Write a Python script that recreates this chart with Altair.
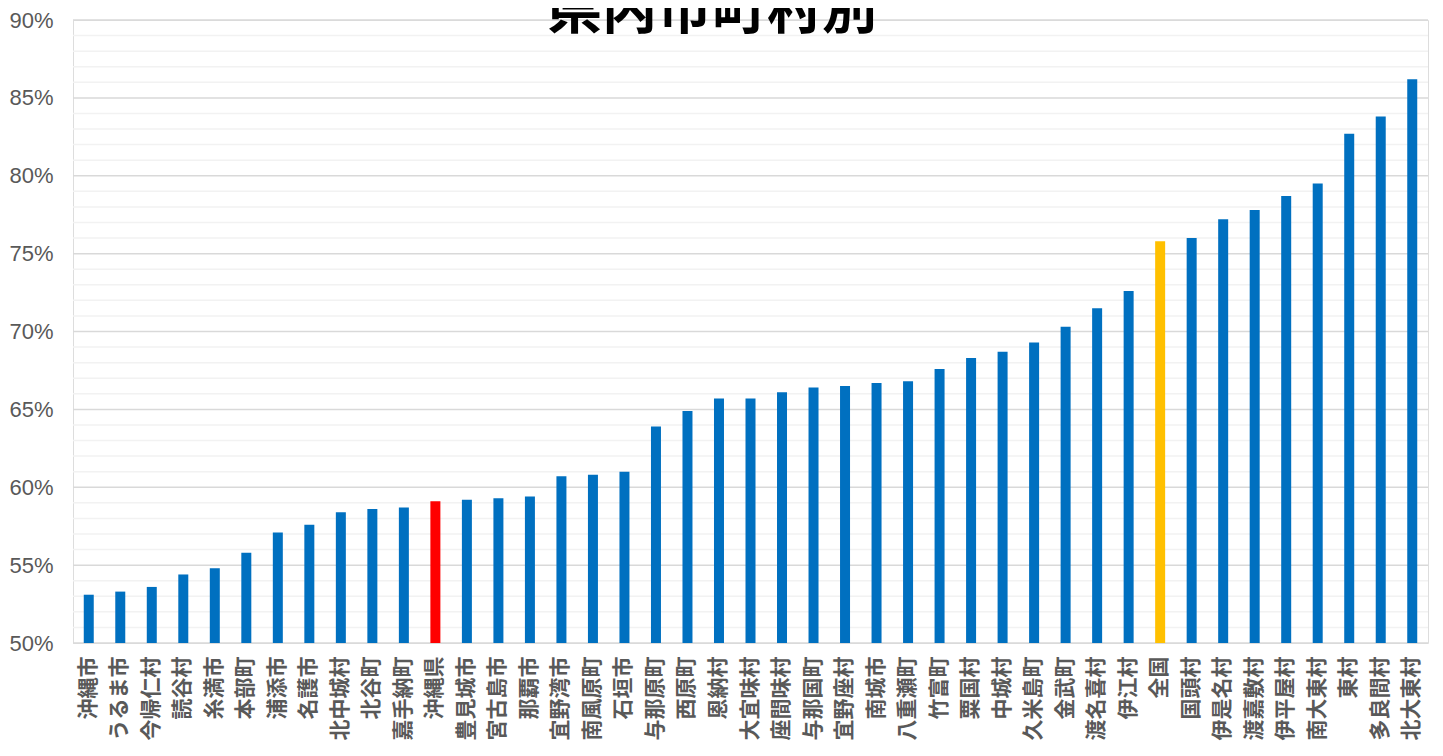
import altair as alt
import pandas as pd

title_text = ["県内市町村別"]
names = ["沖縄市", "うるま市", "今帰仁村", "読谷村", "糸満市", "本部町", "浦添市", "名護市",
         "北中城村", "北谷町", "嘉手納町", "沖縄県", "豊見城市", "宮古島市", "那覇市", "宜野湾市",
         "南風原町", "石垣市", "与那原町", "西原町", "恩納村", "大宜味村", "座間味村", "与那国町",
         "宜野座村", "南城市", "八重瀬町", "竹富町", "粟国村", "中城村", "久米島町", "金武町",
         "渡名喜村", "伊江村", "全国", "国頭村", "伊是名村", "渡嘉敷村", "伊平屋村", "南大東村",
         "東村", "多良間村", "北大東村"]
values = [53.1, 53.3, 53.6, 54.4, 54.8, 55.8, 57.1, 57.6,
          58.4, 58.6, 58.7, 59.1, 59.2, 59.3, 59.4, 60.7,
          60.8, 61.0, 63.9, 64.9, 65.7, 65.7, 66.1, 66.4,
          66.5, 66.7, 66.8, 67.6, 68.3, 68.7, 69.3, 70.3,
          71.5, 72.6, 75.8, 76.0, 77.2, 77.8, 78.7, 79.5,
          82.7, 83.8, 86.2]
kinds = ["県" if n == "沖縄県" else ("全国" if n == "全国" else "市町村") for n in names]
kind_domain = ["市町村", "県", "全国"]
kind_colors = ["#0070C0", "#FF0000", "#FFC000"]

major_ticks = [50, 55, 60, 65, 70, 75, 80, 85, 90]
minor_ticks = [v for v in range(50, 91) if v % 5 != 0]

df = pd.DataFrame({"name": names, "value": values, "kind": kinds})
major_df = pd.DataFrame({"v": major_ticks})
minor_df = pd.DataFrame({"v": minor_ticks})
title_df = pd.DataFrame({"t": title_text})

y_scale = alt.Scale(domain=[50, 90], nice=False, zero=False)
y_axis = alt.Axis(values=major_ticks, labelExpr="datum.value + '%'", grid=False,
                  ticks=False, domain=False, labelFont="Liberation Sans",
                  labelFontSize=22, labelColor="#595959", labelPadding=20)

minor = alt.Chart(minor_df).mark_rule(color="#f2f2f2", strokeWidth=1.5).encode(
    y=alt.Y("v:Q", scale=y_scale, axis=y_axis, title=None)
)
major = alt.Chart(major_df).mark_rule(color="#d9d9d9", strokeWidth=1.5).encode(
    y=alt.Y("v:Q", scale=y_scale, axis=y_axis, title=None)
)

bars = alt.Chart(df).mark_bar(size=10, clip=True).encode(
    x=alt.X("name:N", sort=names, title=None,
            scale=alt.Scale(paddingInner=0, paddingOuter=0),
            axis=alt.Axis(labelAngle=270, labelFont="Noto Sans CJK JP", labelFontWeight="bold",
                          labelFontSize=21, labelColor="#595959", ticks=False, domain=False,
                          labelPadding=13, labelOverlap=False, labelLimit=400)),
    y=alt.Y("value:Q", scale=y_scale, title=None, axis=y_axis),
    y2=alt.datum(50),
    color=alt.Color("kind:N", scale=alt.Scale(domain=kind_domain, range=kind_colors), legend=None),
)

title = alt.Chart(title_df).mark_text(
    font="Noto Sans CJK JP", fontWeight="bold", fontSize=55, color="black",
    align="center", baseline="alphabetic"
).encode(text="t:N", x=alt.value(639), y=alt.value(8))

chart = alt.layer(minor, major, bars, title).properties(
    width=1355,
    height=623,
    autosize=alt.AutoSizeParams(type="none"),
    padding={"left": 65, "top": 12, "right": 5, "bottom": 100},
).configure_view(stroke=None).configure(background="white")

chart.save("out.html", embed_options={"renderer": "svg", "actions": False})
